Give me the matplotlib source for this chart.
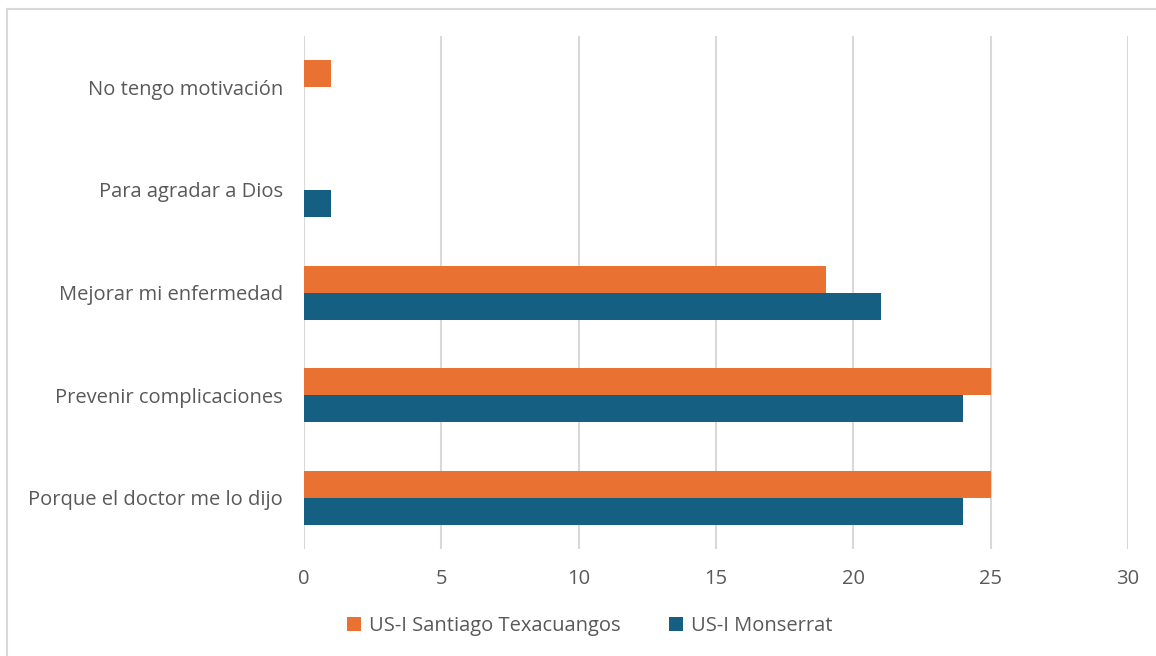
import numpy as np
import matplotlib
matplotlib.use("Agg")
import matplotlib.pyplot as plt
from matplotlib.lines import Line2D

# categorias de abajo hacia arriba
categories = [
    "Porque el doctor me lo dijo",
    "Prevenir complicaciones",
    "Mejorar mi enfermedad",
    "Para agradar a Dios",
    "No tengo motivación",
]
santiago = [25, 25, 19, 0, 1]
monserrat = [24, 24, 21, 1, 0]
series_names = ["US-I Santiago Texacuangos", "US-I Monserrat"]
x_ticks = [0, 5, 10, 15, 20, 25, 30]

ORANGE = "#E97132"
BLUE = "#156082"
GRID = "#D9D9D9"
TEXT = "#595959"
FS = 14.5

plt.rcParams["font.family"] = ["Open Sans", "DejaVu Sans"]

fig = plt.figure(figsize=(11.56, 6.56), dpi=100)
ax = fig.add_axes([0.263, 0.163, 0.7128, 0.782])

y = np.arange(len(categories))
h = 0.263
ax.barh(y + h / 2, santiago, height=h, color=ORANGE, label=series_names[0], zorder=3)
ax.barh(y - h / 2, monserrat, height=h, color=BLUE, label=series_names[1], zorder=3)

ax.set_xlim(0, 30)
ax.set_ylim(-0.5, len(categories) - 0.5)
ax.set_xticks(x_ticks)
ax.set_yticks(y)
ax.set_yticklabels(categories)
ax.tick_params(axis="y", length=0, pad=15, labelsize=FS, labelcolor=TEXT)
ax.tick_params(axis="x", length=0, pad=14, labelsize=FS, labelcolor=TEXT)

ax.grid(axis="x", color=GRID, linewidth=1.5, zorder=0)
for s in ax.spines.values():
    s.set_visible(False)

# marco exterior del grafico (arriba e izquierda)
fig.add_artist(Line2D([7 / 1156, 1.0], [1 - 9 / 656, 1 - 9 / 656],
                      transform=fig.transFigure, color=GRID, linewidth=1.5))
fig.add_artist(Line2D([7 / 1156, 7 / 1156], [0.0, 1 - 9 / 656],
                      transform=fig.transFigure, color=GRID, linewidth=1.5))

fig.legend(loc="center", bbox_to_anchor=(0.51, 0.046), ncol=2, frameon=False,
           fontsize=FS, labelcolor=TEXT, handlelength=0.7, handleheight=0.7,
           handletextpad=0.4, columnspacing=2.4)

plt.savefig("out.png", dpi=100)
plt.close()
